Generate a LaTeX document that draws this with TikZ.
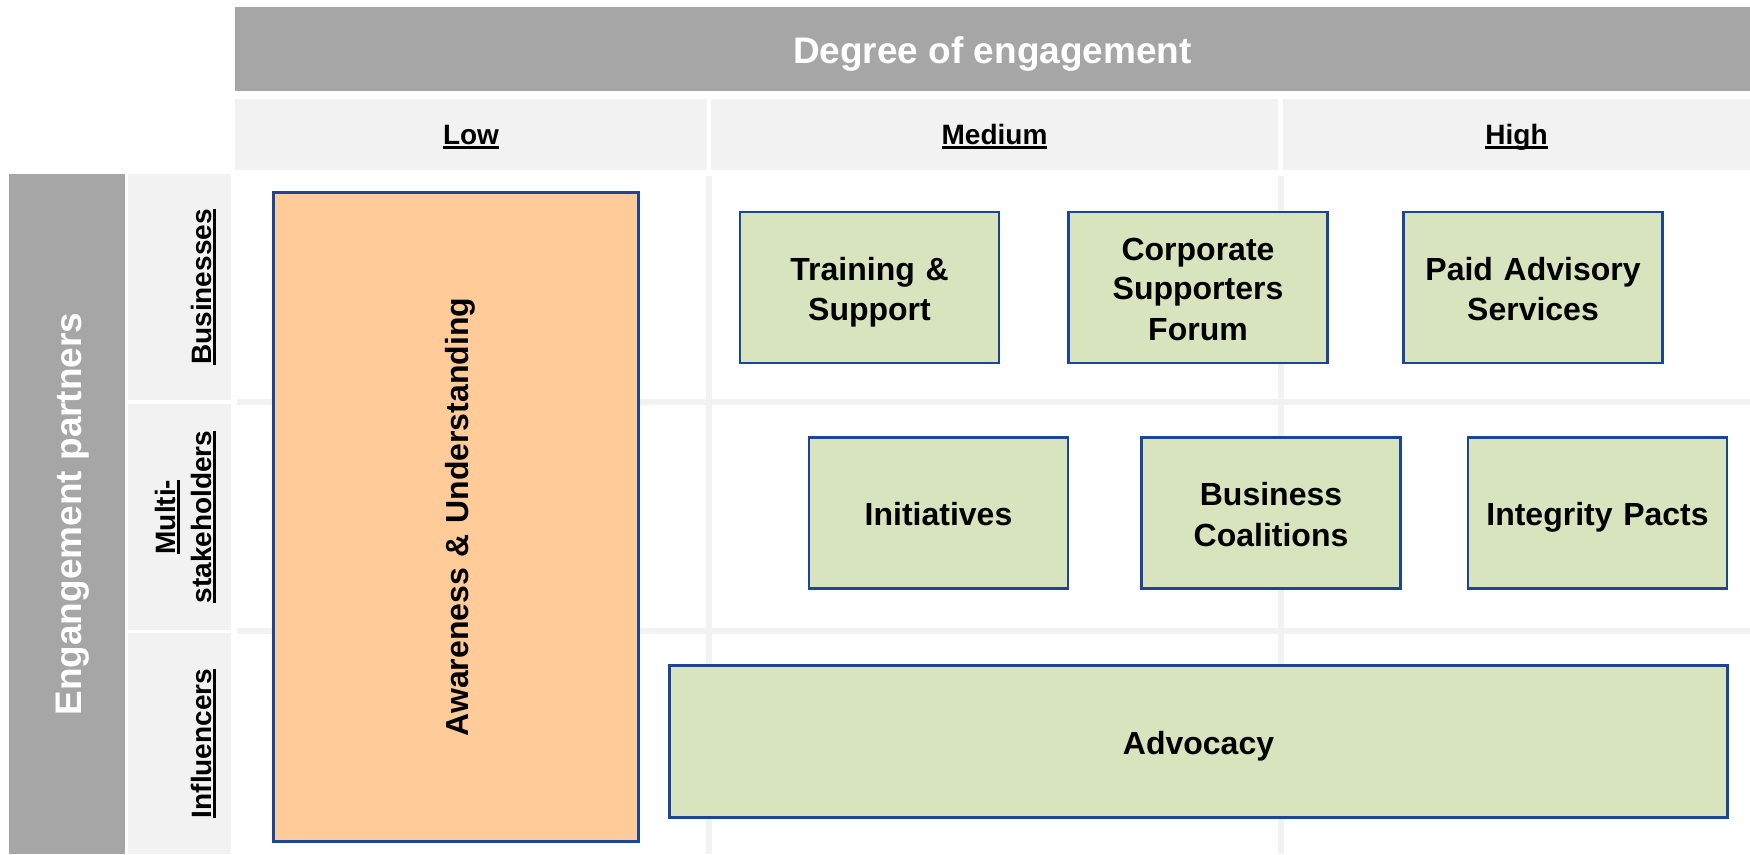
\documentclass[tikz,border=0pt]{standalone}
\usepackage{fontspec}
\setmainfont{Liberation Sans}
\usepackage{tikz}
\definecolor{headgray}{HTML}{A6A6A6}
\definecolor{cellgray}{HTML}{F2F2F2}
\definecolor{peach}{HTML}{FFCC99}
\definecolor{palegreen}{HTML}{D7E4BD}
\definecolor{boxblue}{HTML}{1C4595}
\newcommand{\ulined}[1]{\setbox0\hbox{#1}\rlap{\vrule height -2pt depth 4.5pt width \wd0}\box0}

\begin{document}
\begin{tikzpicture}[x=1pt, y=-1pt,
    linebox/.style 2 args={execute at begin node={\rule[-#2pt]{0pt}{#1pt}},
      execute at end node={\rule[-#2pt]{0pt}{#1pt}}},
    bigfont/.style={font=\fontsize{37}{44}\selectfont\bfseries, linebox={45.5}{7.8}},
    boxfont/.style={font=\fontsize{32}{39}\selectfont\bfseries, linebox={39.5}{6.8}},
    labfont/.style={font=\fontsize{28}{36}\selectfont\bfseries},
    band/.style={fill=headgray, text=white, bigfont, inner sep=0pt},
    colhead/.style={fill=cellgray, labfont, linebox={31.2}{5.9}, minimum height=71, inner sep=0pt},
    rowcell/.style={fill=cellgray, minimum width=103, inner sep=0pt},
    rowlabel/.style={labfont, rotate=90, anchor=south, align=center, inner sep=0pt},
    gridline/.style={cellgray, line width=6pt},
    activity/.style={draw=boxblue, line width=2.7pt, fill=palegreen, boxfont,
      text width=250pt, align=center, minimum width=259, minimum height=151, inner sep=0pt}]
  \useasboundingbox[fill=white] (0,0) rectangle (1750,854);

  % Headers
  \node[band, minimum width=1515, minimum height=84] (degree) at (992.5,49) {Degree of engagement};
  \node[colhead, minimum width=472] (low) at (471,134.5) {\ulined{Low}};
  \node[colhead, minimum width=567] (medium) at (994.5,134.5) {\ulined{Medium}};
  \node[colhead, minimum width=467] (high) at (1516.5,134.5) {\ulined{High}};
  \node[band, rotate=90, minimum width=680, minimum height=116] (partners) at (67,514) {Engangement partners};

  % Row labels
  \node[rowcell, minimum height=226] (busicell) at (179.5,287) {};
  \node[rowcell, minimum height=226] (multicell) at (179.5,517) {};
  \node[rowcell, minimum height=221] (inflcell) at (179.5,743.5) {};
  \node[rowlabel] (busi) at (216,287) {\ulined{Businesses}};
  \node[rowlabel] (multi) at (216,517) {\ulined{Multi-}\\\ulined{stakeholders}};
  \node[rowlabel] (infl) at (216,743.5) {\ulined{Influencers}};

  % Grid of the body
  \foreach \gx in {709,1281}
    \draw[gridline] (\gx,176) -- (\gx,854);
  \foreach \gy in {402,631}
    \draw[gridline] (237,\gy) -- (1750,\gy);

  % Activities
  \node[activity, fill=peach, rotate=90, text width=500pt, minimum width=649, minimum height=365] (aware) at (456,517) {Awareness \& Understanding};
  \node[activity] (training) at (869.5,287.5) {Training \&\\Support};
  \node[activity] (forum) at (1198,287.5) {Corporate\\Supporters\\Forum};
  \node[activity] (paid) at (1533,287.5) {Paid Advisory\\Services};
  \node[activity] (initiatives) at (938.5,513) {Initiatives};
  \node[activity] (coalitions) at (1271,513) {Business\\Coalitions};
  \node[activity] (pacts) at (1597.5,513) {Integrity Pacts};
  \node[activity, minimum width=1058, minimum height=152] (advocacy) at (1198.5,741.5) {Advocacy};
\end{tikzpicture}
\end{document}
